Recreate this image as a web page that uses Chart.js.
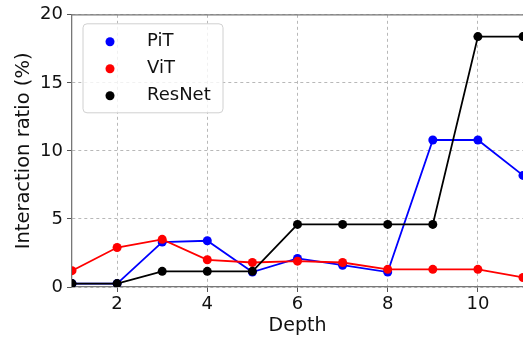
<!DOCTYPE html>
<html>
<head>
<meta charset="utf-8">
<script src="https://cdn.jsdelivr.net/npm/chart.js@4.4.0/dist/chart.umd.min.js"></script>
<style>
  html, body { margin: 0; padding: 0; background: #fff; overflow: hidden; }
  #wrap { width: 530px; height: 339px; }
</style>
</head>
<body>
<div id="wrap"><canvas id="grafico"></canvas></div>
<script>
const profundidade = [1, 2, 3, 4, 5, 6, 7, 8, 9, 10, 11];
const valoresPiT = [0.25, 0.25, 3.3, 3.4, 1.1, 2.1, 1.6, 1.1, 10.8, 10.8, 8.2];
const valoresViT = [1.2, 2.9, 3.5, 2.0, 1.8, 1.9, 1.8, 1.3, 1.3, 1.3, 0.7];
const valoresResNet = [0.25, 0.25, 1.15, 1.15, 1.15, 4.6, 4.6, 4.6, 4.6, 18.4, 18.4];
const ticksX = [2, 4, 6, 8, 10];
const ticksY = [0, 5, 10, 15, 20];

const fonte = "'DejaVu Sans', sans-serif";

function pontos(valores) {
    return profundidade.map((d, i) => ({ x: d, y: valores[i] }));
}

function serie(label, valores, cor, ordem) {
    return {
        label: label,
        data: pontos(valores),
        borderColor: cor,
        backgroundColor: cor,
        borderWidth: 1.8,
        pointRadius: 4.5,
        pointBorderWidth: 0,
        order: ordem,
        clip: 0
    };
}

// legenda desenhada dentro da area do grafico
const legendaInterna = {
    id: 'legendaInterna',
    afterDraw(chart) {
        const ctx = chart.ctx;
        const area = chart.chartArea;
        // linha de cima (spine)
        ctx.save();
        ctx.strokeStyle = '#777';
        ctx.lineWidth = 1.3;
        ctx.beginPath();
        ctx.moveTo(area.left, area.top);
        ctx.lineTo(area.right, area.top);
        ctx.stroke();

        const x0 = area.left + 11, y0 = area.top + 9, w = 140, h = 89;
        ctx.fillStyle = 'rgba(255,255,255,0.8)';
        ctx.strokeStyle = '#d0d0d0';
        ctx.lineWidth = 1;
        ctx.beginPath();
        ctx.roundRect(x0, y0, w, h, 4);
        ctx.fill();
        ctx.stroke();

        ctx.font = '18px ' + fonte;
        ctx.textBaseline = 'middle';
        ctx.textAlign = 'left';
        const itens = [chart.data.datasets[0], chart.data.datasets[1], chart.data.datasets[2]];
        itens.forEach((ds, i) => {
            const y = y0 + 18 + i * 27;
            ctx.fillStyle = ds.backgroundColor;
            ctx.beginPath();
            ctx.arc(x0 + 27, y, 4.5, 0, Math.PI * 2);
            ctx.fill();
            ctx.fillStyle = '#111';
            ctx.fillText(ds.label, x0 + 64, y);
        });
        ctx.restore();
    }
};

new Chart(document.getElementById('grafico'), {
    type: 'line',
    data: {
        datasets: [
            serie('PiT', valoresPiT, '#0000ff', 2),
            serie('ViT', valoresViT, '#ff0000', 1),
            serie('ResNet', valoresResNet, '#000000', 0)
        ]
    },
    options: {
        responsive: true,
        maintainAspectRatio: false,
        animation: false,
        layout: { padding: { top: 14, right: 7, left: 0, bottom: 0 } },
        plugins: {
            legend: { display: false },
            tooltip: { enabled: false }
        },
        scales: {
            x: {
                type: 'linear',
                min: 1,
                max: 11,
                afterBuildTicks: s => { s.ticks = ticksX.map(v => ({ value: v })); },
                afterFit: s => { s.height = 52; },
                grid: {
                    color: '#b8b8b8',
                    tickLength: 5,
                    tickColor: '#555',
                    tickBorderDash: []
                },
                border: { display: true, color: '#777', width: 1.3, dash: [3, 3] },
                ticks: { color: '#111', padding: 2, font: { family: fonte, size: 18 } },
                title: {
                    display: true,
                    text: 'Depth',
                    color: '#111',
                    padding: { top: 0, bottom: 2 },
                    font: { family: fonte, size: 19 }
                }
            },
            y: {
                min: 0,
                max: 20,
                afterBuildTicks: s => { s.ticks = ticksY.map(v => ({ value: v })); },
                afterFit: s => { s.width = 72; },
                grid: {
                    color: '#b8b8b8',
                    tickLength: 5,
                    tickColor: '#555',
                    tickBorderDash: []
                },
                border: { display: true, color: '#777', width: 1.3, dash: [3, 3] },
                ticks: { color: '#111', padding: 4, font: { family: fonte, size: 18 } },
                title: {
                    display: true,
                    text: 'Interaction ratio (%)',
                    color: '#111',
                    padding: { top: 12, bottom: 0 },
                    font: { family: fonte, size: 19.5 }
                }
            }
        }
    },
    plugins: [legendaInterna]
});
</script>
</body>
</html>
